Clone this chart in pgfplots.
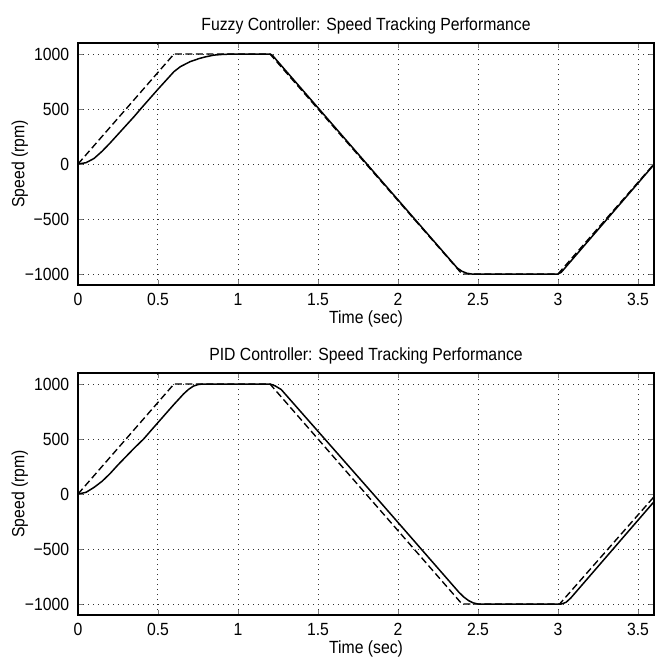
\documentclass[border=0pt]{standalone}
\usepackage{pgfplots}
\pgfplotsset{compat=1.18}
\usepackage{fontspec}
\setmainfont{Liberation Sans}

\newcommand{\smallfont}{\fontsize{6.3}{7}\selectfont}

\pgfplotsset{
  speedplot/.style={
    scale only axis, width=230.4pt, height=96.8pt,
    xmin=0, xmax=3.6, ymin=-1100, ymax=1100,
    xtick={0,0.5,1,1.5,2,2.5,3,3.5},
    xticklabels={0,0.5,1,1.5,2,2.5,3,3.5},
    ytick={-1000,-500,0,500,1000},
    yticklabels={−1000,−500,0,500,1000},
    tick align=inside, major tick length=2pt,
    axis line style={line width=0.5pt},
    grid=major,
    major grid style={black!80, line width=0.4pt, dash pattern=on 0.4pt off 1.6pt},
    tick label style={font=\smallfont, yscale=1.12},
    xticklabel style={yshift=0.6pt},
    label style={font=\smallfont, yscale=1.12},
    title style={font=\smallfont, yscale=1.12, yshift=-5.6pt},
    xlabel={Time (sec)}, ylabel={Speed (rpm)},
    xlabel style={yshift=5pt},
    ylabel style={yshift=-7.6pt},
  },
  refline/.style={black, line width=0.55pt, dash pattern=on 2.8pt off 1.4pt},
  actline/.style={black, line width=0.6pt},
}

\begin{document}
\begin{tikzpicture}
  % top: fuzzy controller
  \begin{axis}[speedplot, name=top, at={(0,0)}, anchor=north west,
      title={Fuzzy Controller: Speed Tracking Performance}]
    \addplot[refline] coordinates {(0,0)(0.6,1000)(1.2,1000)(2.4,-1000)(3.0,-1000)(3.6,0)};
    \addplot[actline] coordinates {
      (0,0)(0.05,12)(0.1,50)(0.15,115)(0.2,190)(0.25,270)(0.3,350)(0.35,430)
      (0.4,515)(0.5,680)(0.6,840)(0.64,885)(0.7,930)(0.76,960)(0.8,975)
      (0.85,990)(0.9,996)(0.97,1000)(1.2,1000)(1.215,988)(2.37,-945)
      (2.40,-975)(2.43,-993)(2.46,-1000)(3.0,-1000)(3.02,-985)(3.6,-5)};
  \end{axis}

  % bottom: PID controller
  \begin{axis}[speedplot, name=bottom, at={(0,-132pt)}, anchor=north west,
      title={PID Controller: Speed Tracking Performance}]
    \addplot[refline] coordinates {(0,0)(0.6,1000)(1.2,1000)(2.4,-1000)(3.01,-1000)(3.6,-25)};
    \addplot[actline] coordinates {
      (0,0)(0.05,15)(0.1,60)(0.15,115)(0.2,185)(0.25,265)(0.3,340)(0.35,415)
      (0.41,500)(0.5,650)(0.6,815)(0.66,910)(0.69,950)(0.72,980)(0.75,995)
      (0.78,1000)(1.2,1000)(1.23,985)(1.27,950)(1.845,0)(2.38,-892)
      (2.41,-935)(2.44,-968)(2.47,-990)(2.5,-1000)(3.02,-1000)(3.05,-985)
      (3.08,-945)(3.6,-70)};
  \end{axis}

  % page frame with the reference's margins
  \pgfresetboundingbox
  \path (-31.2pt,17.2pt) rectangle (231.6pt,-248pt);
\end{tikzpicture}
\end{document}
